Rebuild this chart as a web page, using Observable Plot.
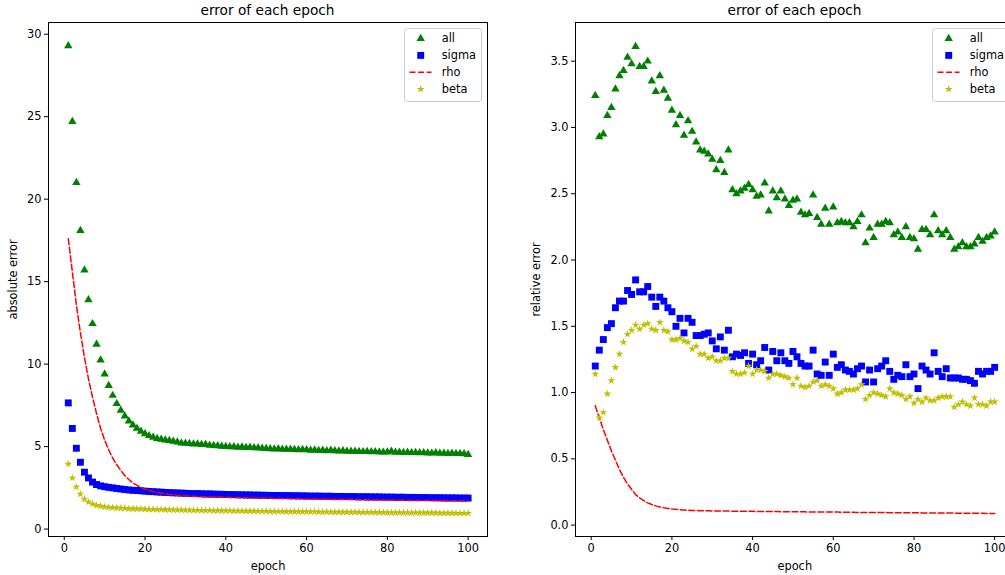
<!DOCTYPE html>
<html><head><meta charset="utf-8">
<script src="https://cdn.jsdelivr.net/npm/d3@7"></script>
<script src="https://cdn.jsdelivr.net/npm/@observablehq/plot@0.6"></script>
<style>
html,body{margin:0;padding:0;background:#fff;overflow:hidden;width:1005px;height:575px;}
#wrap{position:relative;width:1005px;height:575px;overflow:hidden;font-family:"DejaVu Sans",sans-serif;}
.panel{position:absolute;top:0;}
.title{position:absolute;top:2px;font-size:13.7px;line-height:16px;transform:translateX(-50%);white-space:nowrap;color:#000;}
.legend{position:absolute;overflow:visible;}
</style></head><body><div id="wrap"></div>
<script>
// ---- data ----
const seriesNames = ["all", "sigma", "rho", "beta"];
const chartTitle = "error of each epoch";
const xLabel = "epoch";
const epochTicks = [0, 20, 40, 60, 80, 100];
const absTicks = [0, 5, 10, 15, 20, 25, 30];
const relTicks = [0, 0.5, 1.0, 1.5, 2.0, 2.5, 3.0, 3.5];

const absAll = [29.3,24.7,21.0,18.1,15.7,13.9,12.45,11.2,10.25,9.4,
8.7,8.1,7.6,7.2,6.85,6.55,6.3,6.1,5.92,5.78,
5.66,5.56,5.48,5.44,5.4,5.36,5.32,5.27,5.22,5.2,
5.18,5.15,5.16,5.12,5.13,5.08,5.06,5.04,5.02,5.0,
4.98,4.99,4.96,4.97,4.94,4.95,4.93,4.92,4.9,4.88,
4.87,4.85,4.86,4.84,4.83,4.84,4.82,4.81,4.82,4.8,
4.78,4.79,4.76,4.77,4.75,4.77,4.74,4.73,4.74,4.72,
4.71,4.72,4.7,4.69,4.7,4.68,4.69,4.67,4.66,4.67,
4.72,4.65,4.66,4.64,4.65,4.63,4.64,4.62,4.63,4.61,
4.6,4.62,4.59,4.6,4.58,4.6,4.57,4.58,4.56,4.52];

const absSigma = [7.65,6.1,4.9,4.05,3.45,3.1,2.85,2.7,2.62,2.57,
2.53,2.5,2.46,2.43,2.4,2.37,2.35,2.34,2.32,2.3,
2.28,2.27,2.25,2.24,2.22,2.21,2.2,2.19,2.18,2.17,
2.16,2.15,2.15,2.14,2.13,2.13,2.12,2.11,2.11,2.1,
2.09,2.09,2.08,2.08,2.07,2.07,2.06,2.06,2.05,2.05,
2.04,2.04,2.04,2.03,2.03,2.03,2.02,2.02,2.01,2.01,
2.0,2.0,2.0,1.99,1.99,1.99,1.98,1.98,1.98,1.97,
1.97,1.97,1.96,1.96,1.96,1.95,1.95,1.95,1.94,1.94,
1.94,1.93,1.93,1.93,1.92,1.92,1.92,1.91,1.91,1.91,
1.9,1.9,1.9,1.89,1.89,1.89,1.89,1.88,1.88,1.88];

const absRho = [17.6,15.6,13.6,11.9,10.4,9.1,8.0,7.0,6.1,5.4,
4.8,4.3,3.9,3.55,3.25,3.0,2.8,2.65,2.52,2.42,
2.34,2.27,2.22,2.17,2.13,2.1,2.07,2.05,2.03,2.01,
2.0,1.99,1.98,1.97,1.96,1.95,1.95,1.94,1.93,1.93,
1.92,1.91,1.91,1.9,1.9,1.89,1.89,1.88,1.88,1.87,
1.87,1.86,1.86,1.85,1.85,1.84,1.84,1.84,1.83,1.83,
1.82,1.82,1.82,1.81,1.81,1.8,1.8,1.8,1.79,1.79,
1.79,1.78,1.78,1.78,1.77,1.77,1.77,1.76,1.76,1.76,
1.76,1.75,1.75,1.75,1.74,1.74,1.74,1.74,1.73,1.73,
1.73,1.73,1.72,1.72,1.72,1.72,1.71,1.71,1.71,1.71];

const absBeta = [3.95,3.1,2.55,2.12,1.82,1.64,1.52,1.44,1.39,1.35,
1.32,1.3,1.29,1.27,1.26,1.24,1.23,1.23,1.22,1.21,
1.2,1.2,1.19,1.19,1.18,1.17,1.17,1.16,1.16,1.15,
1.15,1.14,1.14,1.13,1.13,1.13,1.12,1.12,1.11,1.11,
1.11,1.1,1.1,1.1,1.09,1.09,1.09,1.08,1.08,1.08,
1.07,1.07,1.07,1.07,1.06,1.06,1.06,1.06,1.05,1.05,
1.05,1.05,1.04,1.04,1.04,1.04,1.03,1.03,1.03,1.03,
1.02,1.03,1.02,1.02,1.02,1.01,1.01,1.01,1.01,1.0,
1.0,1.0,1.0,0.99,0.99,0.99,0.99,0.98,0.98,0.98,
0.98,0.98,0.97,0.97,0.97,0.97,0.96,0.96,0.96,0.96];

const relAll = [3.24,2.93,2.95,3.09,3.15,3.29,3.39,3.43,3.53,3.48,
3.61,3.46,3.46,3.50,3.35,3.27,3.39,3.28,3.22,3.13,
3.02,3.09,2.94,3.05,2.97,2.89,2.83,2.82,2.80,2.76,
2.68,2.75,2.66,2.83,2.53,2.50,2.52,2.54,2.57,2.53,
2.48,2.49,2.58,2.37,2.52,2.47,2.52,2.46,2.41,2.45,
2.46,2.36,2.34,2.35,2.49,2.32,2.27,2.39,2.27,2.40,
2.28,2.29,2.28,2.28,2.25,2.29,2.34,2.13,2.24,2.17,
2.27,2.27,2.29,2.28,2.19,2.21,2.17,2.25,2.17,2.16,
2.08,2.23,2.23,2.19,2.34,2.22,2.19,2.22,2.17,2.08,
2.10,2.13,2.10,2.10,2.12,2.17,2.14,2.17,2.18,2.21];

const relSigma = [1.20,1.32,1.40,1.49,1.52,1.64,1.69,1.69,1.77,1.74,
1.85,1.76,1.76,1.80,1.72,1.65,1.72,1.69,1.64,1.61,
1.50,1.56,1.45,1.56,1.53,1.43,1.43,1.44,1.45,1.39,
1.33,1.42,1.32,1.47,1.27,1.29,1.28,1.30,1.22,1.29,
1.21,1.24,1.34,1.17,1.31,1.24,1.30,1.24,1.22,1.31,
1.27,1.22,1.20,1.20,1.32,1.14,1.13,1.23,1.13,1.29,
1.19,1.21,1.17,1.16,1.14,1.18,1.20,1.08,1.17,1.08,
1.18,1.20,1.24,1.16,1.10,1.13,1.12,1.21,1.12,1.14,
1.03,1.20,1.17,1.14,1.30,1.16,1.12,1.18,1.11,1.11,
1.11,1.10,1.10,1.09,1.07,1.16,1.14,1.16,1.16,1.19];

const relRho = [0.90,0.81,0.72,0.64,0.56,0.49,0.42,0.36,0.31,0.27,
0.23,0.205,0.185,0.168,0.155,0.145,0.137,0.131,0.126,0.122,
0.119,0.116,0.114,0.112,0.111,0.110,0.109,0.108,0.108,0.107,
0.107,0.106,0.106,0.106,0.105,0.105,0.105,0.104,0.104,0.104,
0.103,0.103,0.103,0.102,0.102,0.102,0.101,0.101,0.101,0.100,
0.100,0.100,0.100,0.099,0.099,0.099,0.099,0.098,0.098,0.098,
0.098,0.097,0.097,0.097,0.097,0.096,0.096,0.096,0.096,0.095,
0.095,0.095,0.095,0.094,0.094,0.094,0.094,0.093,0.093,0.093,
0.093,0.092,0.092,0.092,0.092,0.091,0.091,0.091,0.091,0.090,
0.090,0.090,0.090,0.089,0.089,0.089,0.089,0.088,0.088,0.088];

const relBeta = [1.14,0.81,0.85,0.99,1.09,1.19,1.29,1.38,1.44,1.47,
1.51,1.48,1.51,1.52,1.48,1.47,1.53,1.47,1.46,1.40,
1.40,1.41,1.39,1.38,1.33,1.35,1.29,1.29,1.26,1.27,
1.24,1.24,1.26,1.26,1.16,1.14,1.14,1.15,1.20,1.14,
1.17,1.17,1.16,1.11,1.14,1.14,1.13,1.12,1.11,1.06,
1.11,1.05,1.04,1.05,1.08,1.09,1.05,1.06,1.05,1.03,
0.99,1.00,1.02,1.02,1.02,1.03,1.06,0.95,0.98,1.00,
0.99,0.98,0.97,1.03,1.00,0.99,0.98,0.95,0.97,0.92,
0.95,0.93,0.96,0.94,0.94,0.96,0.97,0.97,0.97,0.89,
0.91,0.93,0.91,0.90,0.96,0.91,0.91,0.90,0.93,0.93];

const epochs = d3.range(1, absAll.length + 1);

// ---- styles ----
const colors = {all: "#008000", sigma: "#0000ff", rho: "#ff0000", beta: "#bfbf00"};
const symbols = {all: "triangle", sigma: "square", beta: "star"};
const radii = {all: 3.1, sigma: 3.9, beta: 2.5};
const FONT = "DejaVu Sans";
const wrap = document.getElementById("wrap");

function rows(arr) { return epochs.map((e, i) => ({epoch: e, v: arr[i]})); }

function panel(o) {
  const chart = Plot.plot({
    width: o.width, height: 575,
    marginLeft: o.ml, marginRight: o.mr, marginTop: 22, marginBottom: 39,
    style: {fontFamily: FONT, fontSize: "11.4px", background: "transparent", color: "#000", overflow: "visible"},
    x: {domain: [-3.9, 104.8], ticks: epochTicks, tickSize: 4, tickPadding: 3,
        label: xLabel, labelAnchor: "center", labelArrow: "none", labelOffset: 33},
    y: {domain: o.yDomain, ticks: o.yTicks, tickFormat: o.fmt, tickSize: 4, tickPadding: 3,
        label: o.ylabel, labelAnchor: "center", labelArrow: "none", labelOffset: o.ylo},
    marks: [
      Plot.dot(rows(o.all), {x: "epoch", y: "v", symbol: symbols.all, fill: colors.all, r: radii.all}),
      Plot.dot(rows(o.sigma), {x: "epoch", y: "v", symbol: symbols.sigma, fill: colors.sigma, r: radii.sigma}),
      Plot.line(rows(o.rho), {x: "epoch", y: "v", stroke: colors.rho, strokeWidth: 1.5, strokeDasharray: "6,2.6"}),
      Plot.dot(rows(o.beta), {x: "epoch", y: "v", symbol: symbols.beta, fill: colors.beta, r: radii.beta}),
      Plot.frame({stroke: "#000", strokeWidth: 1})
    ]
  });
  chart.classList.add("panel");
  chart.style.left = o.left + "px";
  wrap.appendChild(chart);

  const t = document.createElement("div");
  t.className = "title";
  t.textContent = chartTitle;
  t.style.left = o.titleX + "px";
  wrap.appendChild(t);

  legend(o.legX, 28);
}

function legend(x, y) {
  const w = 77, h = 73;
  const svg = d3.create("svg").attr("class", "legend").attr("width", w + 2).attr("height", h + 2)
    .style("left", x + "px").style("top", y + "px");
  svg.append("rect").attr("x", 0.5).attr("y", 0.5).attr("width", w).attr("height", h).attr("rx", 3)
    .attr("fill", "rgba(255,255,255,0.8)").attr("stroke", "#cccccc");
  const symMap = {triangle: d3.symbolTriangle, square: d3.symbolSquare, star: d3.symbolStar};
  seriesNames.forEach((name, i) => {
    const cy = 10.5 + i * 16.9;
    if (name === "rho") {
      svg.append("line").attr("x1", 5.5).attr("x2", 27.5).attr("y1", cy).attr("y2", cy)
        .attr("stroke", colors.rho).attr("stroke-width", 1.5).attr("stroke-dasharray", "6,2.6");
    } else {
      const r = radii[name];
      svg.append("path").attr("transform", `translate(16.7,${cy})`)
        .attr("d", d3.symbol(symMap[symbols[name]], Math.PI * r * r)())
        .attr("fill", colors[name]);
    }
    svg.append("text").attr("x", 37.7).attr("y", cy).attr("dy", "0.35em")
      .attr("font-family", FONT).attr("font-size", "11.4px").attr("fill", "#000").text(name);
  });
  wrap.appendChild(svg.node());
}

panel({left: 0, width: 500, ml: 48, mr: 13, all: absAll, sigma: absSigma, rho: absRho, beta: absBeta,
  yDomain: [-0.45, 30.71], yTicks: absTicks, fmt: d => String(d), ylabel: "absolute error", ylo: 40,
  titleX: 267.5, legX: 404});
panel({left: 500, width: 520, ml: 75, mr: 6.5, all: relAll, sigma: relSigma, rho: relRho, beta: relBeta,
  yDomain: [-0.086, 3.792], yTicks: relTicks, fmt: d3.format(".1f"), ylabel: "relative error", ylo: 44,
  titleX: 794.5, legX: 932});
</script></body></html>
